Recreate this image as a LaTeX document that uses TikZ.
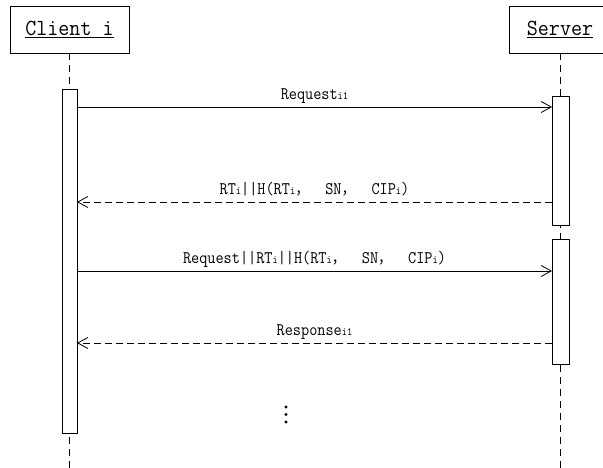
\documentclass[tikz,border=0pt]{standalone}
\usepackage{graphicx}
\usepackage{fontspec}
\usetikzlibrary{arrows.meta,calc}
\newfontfamily\cjk{Noto Sans CJK SC}
% message label text: slightly tall typewriter face
\newcommand\lbl[1]{\scalebox{1}[1.12]{\ttfamily\fontsize{15.8}{16}\selectfont #1}}
\newcommand\lsub[1]{{\fontsize{10}{10}\selectfont #1}}
\newcommand\fwc{{\cjk\fontsize{14}{14}\selectfont ，}\hspace{16pt}}
\newcommand\hdr[1]{\scalebox{1}[1.08]{\ttfamily\fontsize{21.4}{22}\selectfont\underline{#1}}}
\tikzset{
  actor/.style={draw, line width=0.8pt, rectangle, inner sep=0pt, outer sep=0pt, minimum height=47pt},
  bar/.style={draw, fill=white, line width=0.8pt, rectangle, inner sep=0pt, outer sep=0pt},
  life/.style={line width=0.8pt, dash pattern=on 7pt off 5pt},
  msg/.style={line width=0.8pt, -{Straight Barb[length=10pt,width=11pt]}},
  reply/.style={msg, dash pattern=on 7pt off 4pt},
  msglabel/.style={anchor=base, inner sep=0pt, yshift=7.5pt}
}
\begin{document}
\begin{tikzpicture}[x=1pt,y=-1pt]
\useasboundingbox (0,0) rectangle (603,468);
\clip (0,0) rectangle (603,468);
\fill[white] (0,0) rectangle (603,468);

% participants
\node[actor, minimum width=119pt] (client) at (69.5,29.5) {\hdr{Client i}};
\node[actor, minimum width=102pt] (server) at (560,29.5) {\hdr{Server}};

\coordinate (bot) at (0,468);
\coordinate (m1) at (0,107);
\coordinate (m2) at (0,202);
\coordinate (m3) at (0,271);
\coordinate (m4) at (0,343);

% lifelines
\draw[life] (client.south) -- (client.south |- bot);
\draw[life] (server.south) -- (server.south |- bot);

% activation bars
\node[bar, minimum width=15pt, minimum height=344pt] (ca) at (69.5,261) {};
\node[bar, minimum width=17pt, minimum height=129pt] (sa1) at (560.5,160.5) {};
\node[bar, minimum width=17pt, minimum height=125pt] (sa2) at (560.5,301.5) {};

% messages
\draw[msg] (ca.east |- m1) -- node[msglabel] {\lbl{Request\lsub{i1}}} (sa1.west |- m1);
\draw[reply] (sa1.west |- m2) -- node[msglabel] {\lbl{RT\lsub{i}||H(RT\lsub{i}\fwc SN\fwc CIP\lsub{i})}} (ca.east |- m2);
\draw[msg] (ca.east |- m3) -- node[msglabel] {\lbl{Request||RT\lsub{i}||H(RT\lsub{i}\fwc SN\fwc CIP\lsub{i})}} (sa2.west |- m3);
\draw[reply] (sa2.west |- m4) -- node[msglabel] {\lbl{Response\lsub{i1}}} (ca.east |- m4);

% continuation marks
\coordinate (more) at (286,414.5);
\foreach \dy in {-7.5,0,7.5} \fill ($(more)+(0,\dy)$) circle (1.6pt);
\end{tikzpicture}
\end{document}
